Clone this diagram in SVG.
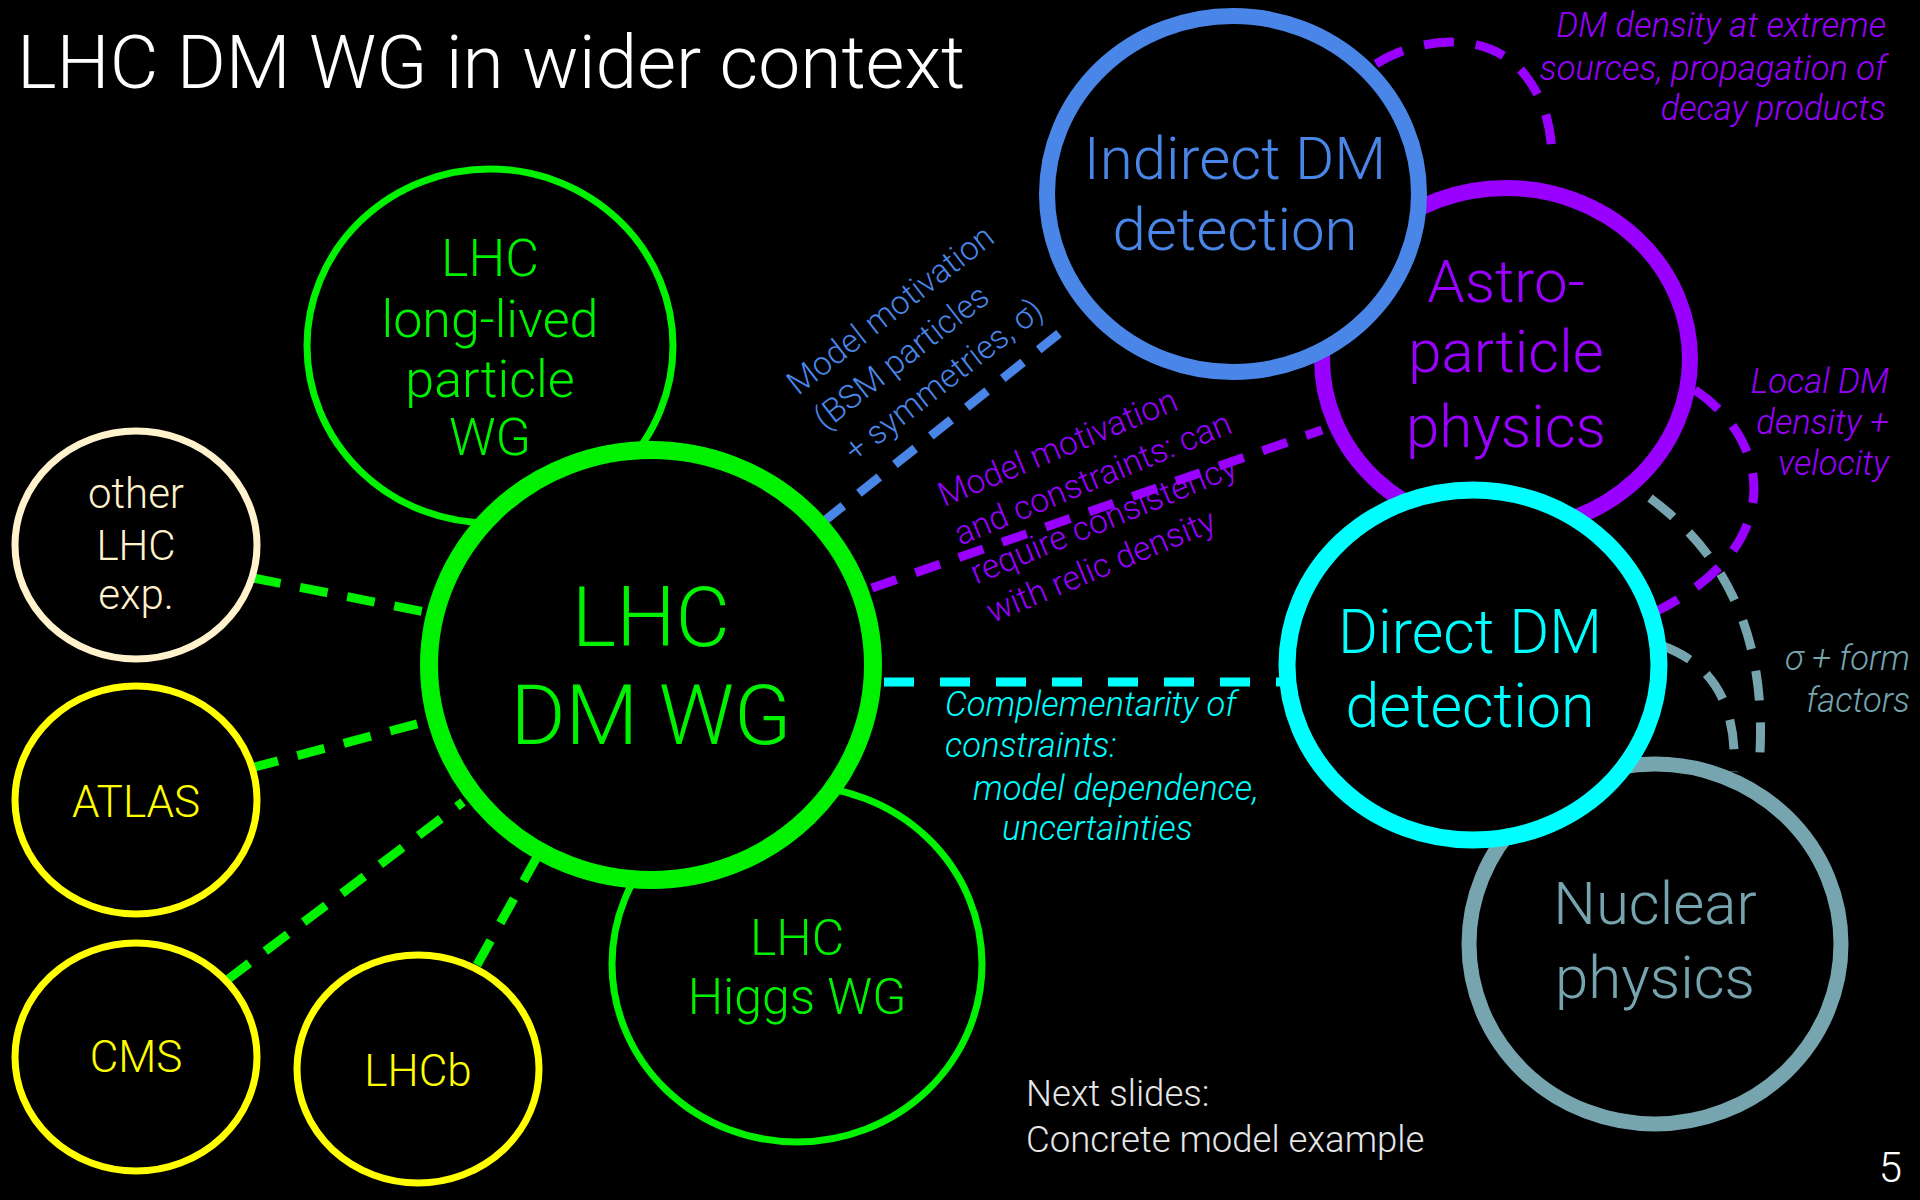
<svg xmlns="http://www.w3.org/2000/svg" width="1920" height="1200" viewBox="0 0 1920 1200">
<style>
text{font-family:Roboto,"Liberation Sans",sans-serif;font-weight:300}
.c{text-anchor:middle}
.e{text-anchor:end}
.i{font-style:italic}
.ring{fill:#000}
.g{fill:#00f200}
.dash{fill:none;stroke-width:9}
</style>
<rect width="1920" height="1200" fill="#000"/>
<text x="17" y="88" font-size="75" fill="#fff">LHC DM WG in wider context</text>

<g id="connectors">
<line class="dash" x1="253" y1="578" x2="425" y2="612" stroke="#00f200" stroke-dasharray="28 20"/>
<line class="dash" x1="251" y1="768" x2="424" y2="722" stroke="#00f200" stroke-dasharray="28 20"/>
<line class="dash" x1="227" y1="980" x2="463" y2="802" stroke="#00f200" stroke-dasharray="28 20"/>
<line class="dash" x1="477" y1="965" x2="537" y2="857" stroke="#00f200" stroke-dasharray="28 20" stroke-width="8"/>
<line class="dash" x1="823" y1="522" x2="1066" y2="328" stroke="#4a86e8" stroke-dasharray="26 20"/>
<line class="dash" x1="872" y1="588" x2="1322" y2="430" stroke="#9900ff" stroke-dasharray="26 20"/>
<line class="dash" x1="884" y1="682" x2="1282" y2="682" stroke="#00ffff" stroke-dasharray="30 26"/>
<path class="dash" d="M1376 64 C1420 36 1490 30 1525 75 C1545 100 1552 130 1552 160" stroke="#9900ff" stroke-dasharray="30 22"/>
<path class="dash" d="M1695 390 C1770 440 1790 545 1655 612" stroke="#9900ff" stroke-dasharray="30 22"/>
<path class="dash" d="M1650 498 C1720 550 1770 630 1759 768" stroke="#76a5af" stroke-dasharray="30 22"/>
<path class="dash" d="M1663 646 C1700 660 1738 690 1734 772" stroke="#76a5af" stroke-dasharray="30 22"/>
</g>

<g id="longlived">
<ellipse class="ring" cx="490" cy="346" rx="183" ry="177" stroke="#00f200" stroke-width="7"/>
<text class="c g" font-size="52"><tspan x="490" y="276">LHC</tspan><tspan x="490" y="337">long-lived</tspan><tspan x="490" y="397">particle</tspan><tspan x="490" y="455">WG</tspan></text>
</g>
<g id="higgs">
<ellipse class="ring" cx="797" cy="964" rx="185" ry="178" stroke="#00f200" stroke-width="7"/>
<text class="c g" font-size="50"><tspan x="797" y="955">LHC</tspan><tspan x="797" y="1014">Higgs WG</tspan></text>
</g>
<g id="main">
<ellipse class="ring" cx="651" cy="665" rx="222" ry="215" stroke="#00f200" stroke-width="18"/>
<text class="c g" font-size="84"><tspan x="651" y="646">LHC</tspan><tspan x="651" y="744">DM WG</tspan></text>
</g>
<g id="other">
<ellipse class="ring" cx="136" cy="545" rx="121" ry="114" stroke="#fff2cc" stroke-width="7"/>
<text class="c" font-size="42" fill="#fff2cc"><tspan x="136" y="508">other</tspan><tspan x="136" y="560">LHC</tspan><tspan x="136" y="609">exp.</tspan></text>
</g>
<g id="atlas">
<ellipse class="ring" cx="136" cy="800" rx="121" ry="114" stroke="#ffff00" stroke-width="7"/>
<text class="c" x="136" y="817" font-size="44" fill="#ffff00">ATLAS</text>
</g>
<g id="cms">
<ellipse class="ring" cx="136" cy="1057" rx="121" ry="114" stroke="#ffff00" stroke-width="7"/>
<text class="c" x="136" y="1072" font-size="44" fill="#ffff00">CMS</text>
</g>
<g id="lhcb">
<ellipse class="ring" cx="418" cy="1069" rx="121" ry="114" stroke="#ffff00" stroke-width="7"/>
<text class="c" x="418" y="1086" font-size="44" fill="#ffff00">LHCb</text>
</g>
<g id="astro">
<ellipse class="ring" cx="1506" cy="359" rx="184" ry="171" stroke="#9900ff" stroke-width="16"/>
<text class="c" font-size="60" fill="#9900ff"><tspan x="1506" y="302">Astro-</tspan><tspan x="1506" y="372">particle</tspan><tspan x="1506" y="447">physics</tspan></text>
</g>
<g id="indirect">
<ellipse class="ring" cx="1233" cy="194" rx="186" ry="178" stroke="#4a86e8" stroke-width="16"/>
<text class="c" font-size="60" fill="#4a86e8"><tspan x="1235" y="179">Indirect DM</tspan><tspan x="1235" y="250">detection</tspan></text>
</g>
<g id="nuclear">
<ellipse class="ring" cx="1655" cy="944" rx="186" ry="180" stroke="#76a5af" stroke-width="15"/>
<text class="c" font-size="60" fill="#76a5af"><tspan x="1655" y="924">Nuclear</tspan><tspan x="1655" y="998">physics</tspan></text>
</g>
<g id="direct">
<ellipse class="ring" cx="1473" cy="665" rx="186" ry="175" stroke="#00ffff" stroke-width="17"/>
<text class="c" font-size="61" fill="#00ffff"><tspan x="1470" y="653">Direct DM</tspan><tspan x="1470" y="727">detection</tspan></text>
</g>

<g id="labels">
<text font-size="33" fill="#4a86e8" transform="translate(798 396) rotate(-38)"><tspan x="0" y="0">Model motivation</tspan><tspan x="0" y="44">(BSM particles</tspan><tspan x="4" y="88">+ symmetries, σ)</tspan></text>
<text font-size="33.5" fill="#9900ff" transform="translate(944 507) rotate(-22.6)"><tspan x="0" y="0">Model motivation</tspan><tspan x="0" y="42">and constraints: can</tspan><tspan x="0" y="84">require consistency</tspan><tspan x="0" y="126">with relic density</tspan></text>
<text class="i" font-size="34.5" fill="#00ffff"><tspan x="945" y="716">Complementarity of</tspan><tspan x="945" y="757">constraints:</tspan><tspan x="973" y="800">model dependence,</tspan><tspan x="1002" y="840">uncertainties</tspan></text>
<text class="i e" font-size="34.5" fill="#9900ff"><tspan x="1886" y="37">DM density at extreme</tspan><tspan x="1886" y="80">sources, propagation of</tspan><tspan x="1886" y="120">decay products</tspan></text>
<text class="i e" font-size="34.5" fill="#9900ff"><tspan x="1889" y="393">Local DM</tspan><tspan x="1889" y="434">density +</tspan><tspan x="1889" y="475">velocity</tspan></text>
<text class="i e" font-size="34.5" fill="#76a5af"><tspan x="1910" y="670">σ + form</tspan><tspan x="1910" y="712">factors</tspan></text>
<text font-size="36.5" fill="#e6e6e6"><tspan x="1026" y="1106">Next slides:</tspan><tspan x="1026" y="1152">Concrete model example</tspan></text>
<text class="e" x="1902" y="1182" font-size="42" fill="#fff">5</text>
</g>
</svg>
